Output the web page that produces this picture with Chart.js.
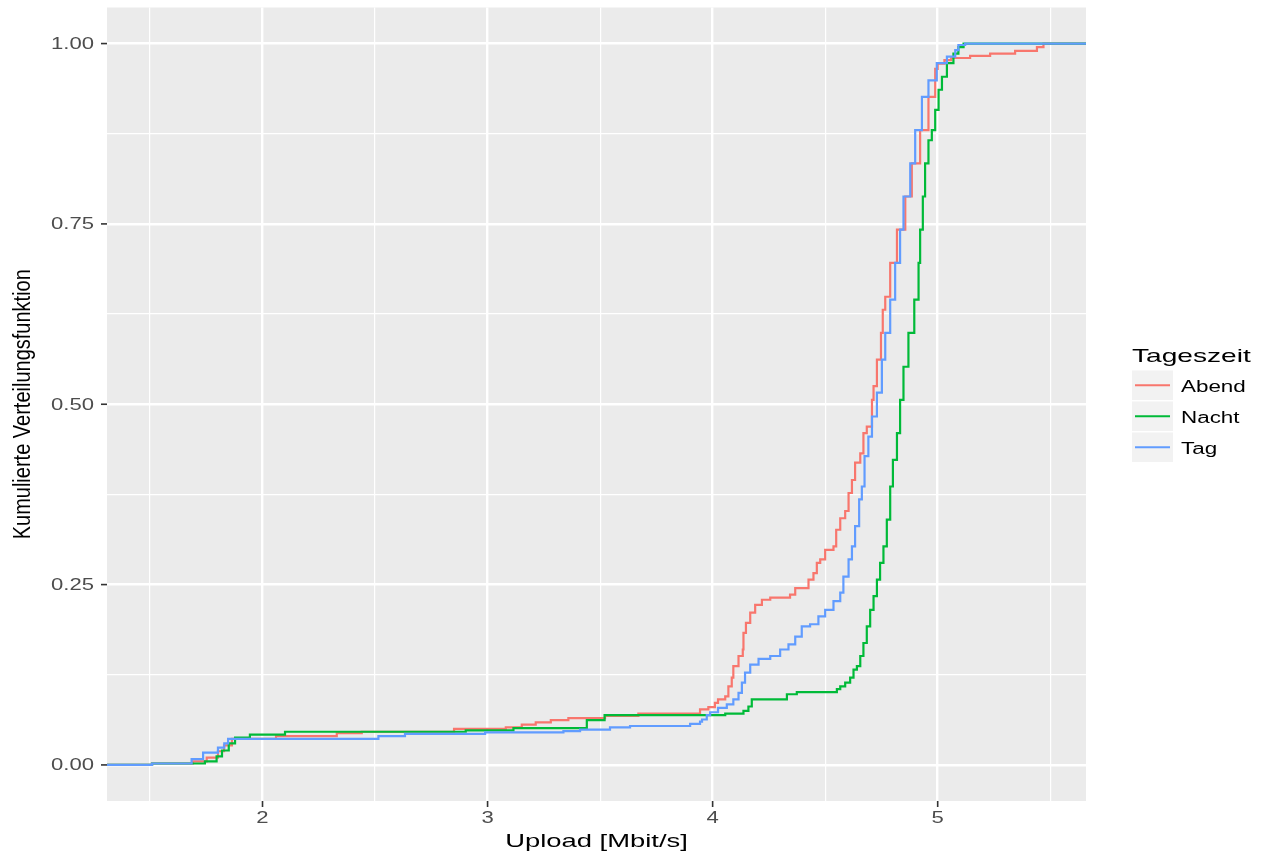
<!DOCTYPE html>
<html>
<head>
<meta charset="utf-8">
<script src="https://cdn.jsdelivr.net/npm/chart.js@4.4.1/dist/chart.umd.min.js"></script>
<style>
  html, body { margin: 0; padding: 0; background: #ffffff; }
  canvas { display: block; }
</style>
</head>
<body>
<canvas id="ecdfChart" width="1273" height="857"></canvas>
<script>
// ECDF of upload speed per time of day (step points: x = Mbit/s, F = cumulative share)
const seriesNames = ['Abend', 'Nacht', 'Tag'];
const seriesColors = ['#F8766D', '#00BA38', '#619CFF'];

const abendX = [1.2, 1.509, 1.691, 1.752, 1.802, 1.829, 1.864, 2.06, 2.33, 2.441, 2.851, 3.081, 3.152, 3.214, 3.281, 3.359, 3.522, 3.67, 3.944, 3.981, 4.01, 4.024, 4.056, 4.07, 4.085, 4.092, 4.115, 4.134, 4.137, 4.148, 4.167, 4.189, 4.219, 4.256, 4.344, 4.367, 4.426, 4.448, 4.463, 4.478, 4.5, 4.537, 4.549, 4.567, 4.589, 4.604, 4.619, 4.633, 4.656, 4.67, 4.685, 4.708, 4.715, 4.73, 4.748, 4.756, 4.767, 4.789, 4.819, 4.856, 4.885, 4.922, 4.959, 4.989, 5.0, 5.03, 5.06, 5.144, 5.233, 5.344, 5.441, 5.47, 6];
const abendF = [0, 0.002, 0.005, 0.010, 0.019, 0.027, 0.036, 0.040, 0.044, 0.046, 0.050, 0.052, 0.056, 0.059, 0.062, 0.065, 0.068, 0.071, 0.077, 0.080, 0.086, 0.091, 0.095, 0.109, 0.121, 0.137, 0.151, 0.160, 0.183, 0.197, 0.211, 0.222, 0.229, 0.232, 0.236, 0.245, 0.257, 0.266, 0.280, 0.285, 0.298, 0.303, 0.326, 0.342, 0.352, 0.377, 0.395, 0.419, 0.432, 0.460, 0.469, 0.506, 0.525, 0.562, 0.599, 0.631, 0.649, 0.696, 0.742, 0.788, 0.834, 0.880, 0.926, 0.965, 0.972, 0.977, 0.980, 0.983, 0.986, 0.990, 0.995, 1.0, 1.0];

const nachtX = [1.2, 1.509, 1.744, 1.796, 1.82, 1.85, 1.878, 1.944, 2.1, 2.903, 3.115, 3.441, 3.52, 4.056, 4.137, 4.159, 4.174, 4.33, 4.374, 4.552, 4.567, 4.589, 4.611, 4.626, 4.641, 4.656, 4.67, 4.685, 4.7, 4.715, 4.73, 4.744, 4.759, 4.774, 4.789, 4.801, 4.819, 4.833, 4.848, 4.87, 4.896, 4.915, 4.922, 4.934, 4.944, 4.959, 4.974, 4.989, 5.004, 5.019, 5.041, 5.07, 5.092, 5.115, 6];
const nachtF = [0, 0.002, 0.005, 0.012, 0.020, 0.030, 0.038, 0.042, 0.046, 0.048, 0.051, 0.062, 0.069, 0.071, 0.075, 0.081, 0.091, 0.098, 0.101, 0.105, 0.109, 0.114, 0.121, 0.132, 0.137, 0.151, 0.169, 0.192, 0.215, 0.234, 0.257, 0.280, 0.303, 0.340, 0.386, 0.423, 0.460, 0.506, 0.552, 0.599, 0.645, 0.696, 0.742, 0.788, 0.834, 0.866, 0.880, 0.908, 0.936, 0.954, 0.973, 0.986, 0.995, 1.0, 1.0];

const tagX = [1.2, 1.509, 1.685, 1.736, 1.802, 1.83, 1.847, 2.515, 2.633, 2.989, 3.337, 3.411, 3.544, 3.633, 3.9, 3.944, 3.953, 3.974, 3.989, 4.024, 4.063, 4.092, 4.115, 4.13, 4.144, 4.167, 4.204, 4.256, 4.3, 4.337, 4.367, 4.396, 4.433, 4.47, 4.5, 4.537, 4.567, 4.581, 4.604, 4.619, 4.633, 4.651, 4.663, 4.675, 4.692, 4.708, 4.73, 4.752, 4.767, 4.789, 4.811, 4.833, 4.848, 4.878, 4.9, 4.93, 4.959, 4.996, 5.041, 5.078, 5.092, 5.122, 6];
const tagF = [0, 0.002, 0.008, 0.017, 0.024, 0.030, 0.036, 0.040, 0.043, 0.045, 0.047, 0.049, 0.052, 0.054, 0.057, 0.060, 0.063, 0.069, 0.073, 0.079, 0.084, 0.091, 0.100, 0.114, 0.128, 0.139, 0.147, 0.151, 0.160, 0.167, 0.178, 0.192, 0.195, 0.206, 0.215, 0.227, 0.239, 0.261, 0.285, 0.303, 0.331, 0.368, 0.386, 0.428, 0.455, 0.483, 0.516, 0.562, 0.599, 0.645, 0.696, 0.742, 0.788, 0.834, 0.880, 0.926, 0.949, 0.973, 0.982, 0.991, 0.998, 1.0, 1.0];

const xTicks = [1.5, 2, 2.5, 3, 3.5, 4, 4.5, 5, 5.5];
const yTicks = [0, 0.125, 0.25, 0.375, 0.5, 0.625, 0.75, 0.875, 1];
const xLabelTicks = [2, 3, 4, 5];
const yLabelTicks = [0, 0.25, 0.5, 0.75, 1];

const xTitle = 'Upload [Mbit/s]';
const yTitle = 'Kumulierte Verteilungsfunktion';
const legendTitle = 'Tageszeit';

const FONT = '"Liberation Sans", Arial, sans-serif';

function toPoints(xs, fs) {
  return xs.map((x, i) => ({ x: x, y: fs[i] }));
}

function isMajorX(v) { return Math.abs(v - Math.round(v)) < 1e-9; }
function isMajorY(v) { return Math.abs(v * 4 - Math.round(v * 4)) < 1e-9; }

// text with a horizontal stretch factor
function wideText(ctx, str, x, y, size, sx, color, align, baseline) {
  ctx.save();
  ctx.font = size + 'px ' + FONT;
  ctx.fillStyle = color;
  ctx.textAlign = align;
  ctx.textBaseline = baseline;
  ctx.translate(x, y);
  ctx.scale(sx, 1);
  ctx.fillText(str, 0, 0);
  ctx.restore();
}

function tickMark(ctx, x1, y1, x2, y2) {
  ctx.save();
  ctx.strokeStyle = '#333333';
  ctx.lineWidth = 1.6;
  ctx.beginPath();
  ctx.moveTo(x1, y1);
  ctx.lineTo(x2, y2);
  ctx.stroke();
  ctx.restore();
}

const panelPlugin = {
  id: 'panel',
  beforeDraw(chart) {
    const { ctx, chartArea: a } = chart;
    ctx.save();
    ctx.fillStyle = '#EBEBEB';
    ctx.fillRect(a.left, a.top, a.right - a.left, a.bottom - a.top);
    ctx.restore();
  },
  afterDraw(chart) {
    const { ctx, chartArea: a, scales } = chart;

    yLabelTicks.forEach(v => {
      const py = scales.y.getPixelForValue(v);
      tickMark(ctx, a.left - 6, py, a.left, py);
      wideText(ctx, v.toFixed(2), a.left - 13, py + 1, 16, 1.38, '#4D4D4D', 'right', 'middle');
    });
    xLabelTicks.forEach(v => {
      const px = scales.x.getPixelForValue(v);
      tickMark(ctx, px, a.bottom, px, a.bottom + 6);
      wideText(ctx, String(v), px, a.bottom + 22, 16, 1.38, '#4D4D4D', 'center', 'alphabetic');
    });

    wideText(ctx, xTitle, (a.left + a.right) / 2, 847, 18.5, 1.48, '#000000', 'center', 'alphabetic');

    // rotated y title
    ctx.save();
    ctx.translate(24, (a.top + a.bottom) / 2);
    ctx.scale(1.15, 1);
    ctx.rotate(-Math.PI / 2);
    ctx.font = '20px ' + FONT;
    ctx.fillStyle = '#000000';
    ctx.textAlign = 'center';
    ctx.textBaseline = 'middle';
    ctx.fillText(yTitle, 0, 0);
    ctx.restore();

    // legend
    const lx = 1132;
    wideText(ctx, legendTitle, lx, 362, 18.5, 1.52, '#000000', 'left', 'alphabetic');
    seriesNames.forEach((name, i) => {
      const top = 370.5 + i * 31;
      ctx.save();
      ctx.fillStyle = '#F2F2F2';
      ctx.fillRect(lx, top, 41, 29.5);
      ctx.strokeStyle = seriesColors[i];
      ctx.lineWidth = 2;
      ctx.beginPath();
      ctx.moveTo(lx + 3, top + 14.75);
      ctx.lineTo(lx + 38, top + 14.75);
      ctx.stroke();
      ctx.restore();
      wideText(ctx, name, lx + 49, top + 21, 16, 1.4, '#000000', 'left', 'alphabetic');
    });
  }
};

const gridOpts = (major) => ({
  color: '#FFFFFF',
  lineWidth: c => major(c.tick.value) ? 2.4 : 1.2,
  drawTicks: false
});

const ctx = document.getElementById('ecdfChart').getContext('2d');
new Chart(ctx, {
  type: 'line',
  data: {
    datasets: [
      { label: seriesNames[0], data: toPoints(abendX, abendF), borderColor: seriesColors[0], order: 3 },
      { label: seriesNames[1], data: toPoints(nachtX, nachtF), borderColor: seriesColors[1], order: 2 },
      { label: seriesNames[2], data: toPoints(tagX, tagF), borderColor: seriesColors[2], order: 1 }
    ]
  },
  options: {
    responsive: false,
    animation: false,
    layout: { padding: { top: 7.5, right: 187, left: 0, bottom: 0 } },
    datasets: {
      line: { stepped: true, borderWidth: 2.2, pointRadius: 0, fill: false, clip: 0 }
    },
    plugins: { legend: { display: false }, tooltip: { enabled: false } },
    scales: {
      x: {
        type: 'linear',
        min: 1.309,
        max: 5.659,
        afterBuildTicks: s => { s.ticks = xTicks.map(v => ({ value: v })); },
        afterFit: s => { s.height = 56; },
        ticks: { display: false },
        grid: gridOpts(isMajorX),
        border: { display: false }
      },
      y: {
        type: 'linear',
        min: -0.05,
        max: 1.05,
        afterBuildTicks: s => { s.ticks = yTicks.map(v => ({ value: v })); },
        afterFit: s => { s.width = 107; },
        ticks: { display: false },
        grid: gridOpts(isMajorY),
        border: { display: false }
      }
    }
  },
  plugins: [panelPlugin]
});
</script>
</body>
</html>
